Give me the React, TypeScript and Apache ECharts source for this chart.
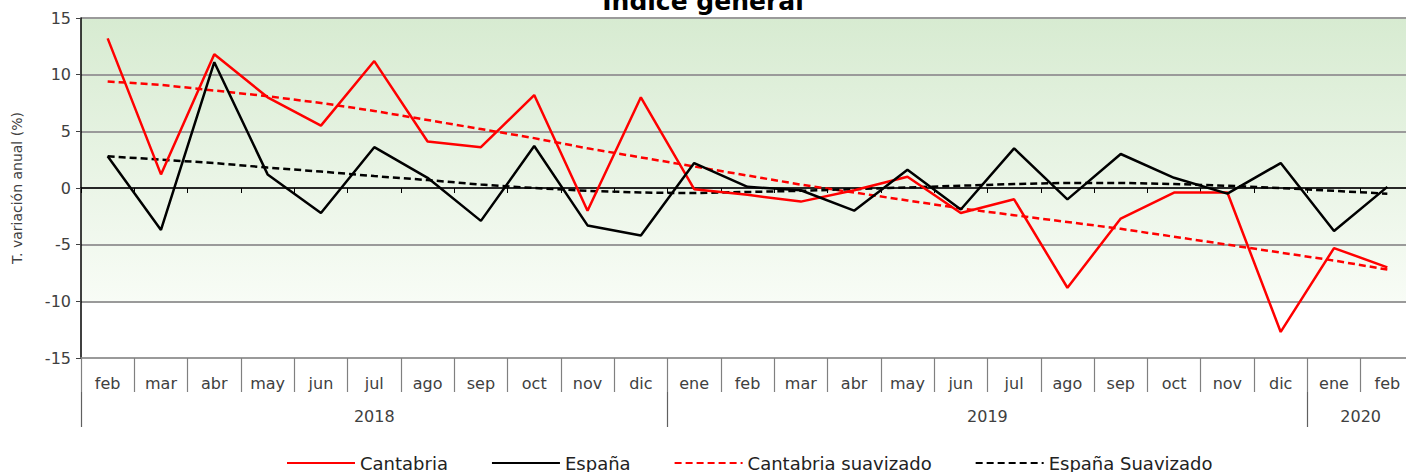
import React, { useEffect, useRef } from "react";
import * as echarts from "echarts";

const titleText = "Índice general";
const yAxisName = "T. variación anual (%)";
const months = ["feb","mar","abr","may","jun","jul","ago","sep","oct","nov","dic","ene","feb","mar","abr","may","jun","jul","ago","sep","oct","nov","dic","ene","feb"];
const years = ["2018", "2019", "2020"];
const yearMonthCounts = [11, 12, 2];
const seriesNames = ["Cantabria", "España", "Cantabria suavizado", "España Suavizado"];
const cantabria = [13.2, 1.2, 11.8, 8.0, 5.5, 11.2, 4.1, 3.6, 8.2, -2.0, 8.0, -0.1, -0.6, -1.2, -0.2, 1.0, -2.2, -1.0, -8.8, -2.7, -0.4, -0.4, -12.7, -5.3, -7.0];
const espana = [2.8, -3.7, 11.1, 1.2, -2.2, 3.6, 0.9, -2.9, 3.7, -3.3, -4.2, 2.2, 0.1, -0.2, -2.0, 1.6, -1.9, 3.5, -1.0, 3.0, 0.9, -0.5, 2.2, -3.8, 0.1];
const cantabriaSuav = [9.4, 9.1, 8.6, 8.1, 7.5, 6.8, 6.0, 5.2, 4.4, 3.5, 2.7, 1.9, 1.1, 0.3, -0.4, -1.1, -1.8, -2.4, -3.0, -3.6, -4.3, -5.0, -5.7, -6.4, -7.2];
const espanaSuav = [2.8, 2.5, 2.2, 1.8, 1.45, 1.05, 0.7, 0.3, 0.0, -0.25, -0.4, -0.45, -0.35, -0.25, -0.1, 0.05, 0.2, 0.35, 0.45, 0.45, 0.35, 0.2, 0.0, -0.25, -0.5];
const yMin = -15;
const yMax = 15;
const yStep = 5;
const shadeTop = 15;
const shadeBottom = -10;

export default function App() {
  const ref = useRef<HTMLDivElement>(null);
  useEffect(() => {
    document.documentElement.style.overflow = "hidden";
    document.body.style.overflow = "hidden";
    const chart = echarts.init(ref.current!, null, { renderer: "svg" });

    const yearStarts: number[] = [];
    let acc = 0;
    for (const c of yearMonthCounts) {
      yearStarts.push(acc);
      acc += c;
    }
    const yearCenters = yearStarts.map((s, i) => s + yearMonthCounts[i] / 2);
    const yearFor = (v: number) => {
      const idx = yearCenters.findIndex((c) => Math.abs(c - v) < 1e-6);
      return idx >= 0 ? years[idx] : "";
    };

    const font = "DejaVu Sans";
    const red = "#ff0000";
    const black = "#000000";
    const dash = [7, 4];

    chart.setOption({
      animation: false,
      title: {
        text: titleText,
        left: "center",
        top: -16,
        textStyle: { fontFamily: font, fontSize: 25, fontWeight: "bold", color: "#000" },
      },
      legend: {
        left: 281,
        top: 449,
        itemWidth: 68,
        itemHeight: 14,
        itemGap: 43,
        data: seriesNames,
        itemStyle: { opacity: 0 },
        textStyle: { fontFamily: font, fontSize: 18, color: "#222" },
      },
      grid: { left: 81, right: -8, top: 18, bottom: 114, outerBoundsMode: "none", containLabel: false },
      xAxis: [
        {
          type: "category",
          data: months,
          position: "bottom",
          axisLine: { onZero: true, lineStyle: { color: "#000", width: 1.5 } },
          axisTick: { show: true, length: 5, interval: 0, lineStyle: { color: "#000", width: 1 } },
          axisLabel: { show: false },
          splitLine: { show: false },
        },
        {
          type: "category",
          data: months,
          position: "bottom",
          axisLine: { onZero: false, lineStyle: { color: "#9a9a9a", width: 1.5 } },
          axisTick: { show: true, length: 34, interval: 0, lineStyle: { color: "#808080", width: 1.2 } },
          axisLabel: { interval: 0, margin: 17, fontFamily: font, fontSize: 16, color: "#404040" },
          splitLine: { show: false },
        },
        {
          type: "value",
          min: 0,
          max: months.length,
          position: "bottom",
          offset: 34,
          axisLine: { show: false, onZero: false },
          axisTick: { show: true, length: 35, customValues: yearStarts, lineStyle: { color: "#606060", width: 1.2 } },
          axisLabel: { customValues: yearCenters, formatter: (v: number) => yearFor(v), margin: 16, fontFamily: font, fontSize: 16, color: "#404040" },
          splitLine: { show: false },
        },
      ],
      yAxis: {
        type: "value",
        min: yMin,
        max: yMax,
        interval: yStep,
        name: yAxisName,
        nameLocation: "middle",
        nameGap: 57,
        nameTextStyle: { fontFamily: font, fontSize: 14, color: "#404040" },
        axisLine: { show: true, lineStyle: { color: "#000", width: 1.5 } },
        axisTick: { show: true, length: 5, lineStyle: { color: "#404040" } },
        axisLabel: { margin: 10, fontFamily: font, fontSize: 16, color: "#404040" },
        splitLine: { show: true, lineStyle: { color: "#9a9a9a", width: 1.8 } },
      },
      series: [
        {
          name: seriesNames[0],
          type: "line",
          data: cantabria,
          symbol: "none",
          lineStyle: { color: red, width: 2.5 },
          itemStyle: { color: red },
          z: 4,
          markArea: {
            silent: true,
            z: -1,
            itemStyle: {
              color: new echarts.graphic.LinearGradient(0, 0, 0, 1, [
                { offset: 0, color: "#d7ebd1" },
                { offset: 1, color: "#f8fcf6" },
              ]),
            },
            data: [[{ yAxis: shadeTop }, { yAxis: shadeBottom }]],
          },
        },
        {
          name: seriesNames[1],
          type: "line",
          data: espana,
          symbol: "none",
          lineStyle: { color: black, width: 2.5 },
          itemStyle: { color: black },
          z: 5,
        },
        {
          name: seriesNames[2],
          type: "line",
          data: cantabriaSuav,
          symbol: "none",
          lineStyle: { color: red, width: 2.5, type: dash },
          itemStyle: { color: red },
          z: 3,
        },
        {
          name: seriesNames[3],
          type: "line",
          data: espanaSuav,
          symbol: "none",
          lineStyle: { color: black, width: 2.5, type: dash },
          itemStyle: { color: black },
          z: 3,
        },
      ],
    });
    return () => chart.dispose();
  }, []);
  return <div ref={ref} style={{ position: "absolute", left: 0, top: 0, width: 1406, height: 472 }} />;
}
